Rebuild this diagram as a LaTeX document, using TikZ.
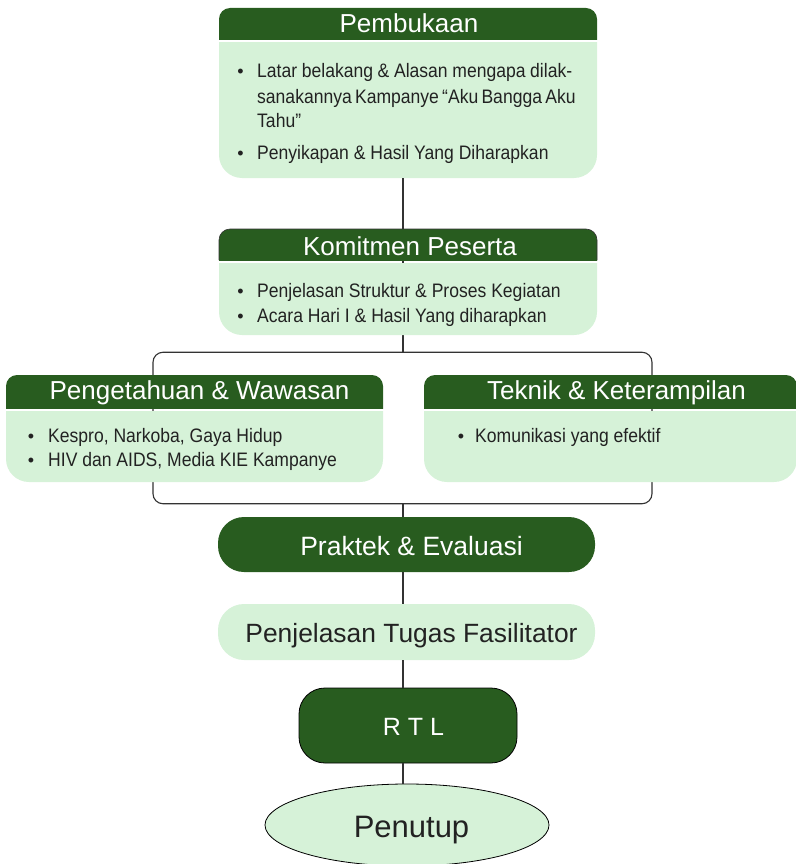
\documentclass[tikz,border=0pt]{standalone}
\usepackage{fontspec}
\setmainfont{Liberation Sans}
\newfontfamily\bodyfont[FakeStretch=0.9]{Liberation Sans}
\usetikzlibrary{shapes.geometric,fit}
\definecolor{dkgreen}{RGB}{40,92,31}
\definecolor{ltgreen}{RGB}{214,242,216}
\definecolor{txtc}{RGB}{34,34,34}
\definecolor{connc}{RGB}{51,51,51}
\newcommand{\twopart}[6]{%
  \begin{scope}
    \clip (#2-2,#3-2) rectangle (#4+2,#5);
    \fill[dkgreen, rounded corners=11pt] (#2,#3) rectangle (#4,#5+30);
  \end{scope}
  \begin{scope}
    \clip (#2-2,#5+3) rectangle (#4+2,#6+2);
    \fill[ltgreen, rounded corners=23pt] (#2,#5-30) rectangle (#4,#6);
  \end{scope}
  \coordinate (#1-nw) at (#2,#3);
  \coordinate (#1-se) at (#4,#6);
  \node[fit=(#1-nw)(#1-se), inner sep=0pt] (#1) {};
}
\begin{document}
\begin{tikzpicture}[x=1pt,y=-1pt,
  conn/.style={draw=connc, line width=1.1pt},
  hdrtext/.style={font=\fontsize{26}{26}\selectfont, text=white, anchor=base, inner sep=0pt},
  bodytext/.style={font=\bodyfont\fontsize{19.5}{19.5}\selectfont, text=txtc, anchor=base west, inner sep=0pt},
  bul/.style={font=\fontsize{18}{18}\selectfont, text=txtc, anchor=base, inner sep=0pt},
  darkpill/.style={fill=dkgreen, rounded corners=26pt, minimum width=377pt, minimum height=55pt, inner sep=0pt},
  lightpill/.style={fill=ltgreen, rounded corners=26pt, minimum width=377pt, minimum height=56pt, inner sep=0pt}]
\useasboundingbox (0,0) rectangle (795,864);
\coordinate (ax) at (403,0);

% bracket grouping the two middle boxes
\node[draw=connc, line width=1.1pt, rounded corners=10pt, minimum width=499pt, minimum height=151.5pt, inner sep=0pt] (bracket) at (402.5,428) {};

% boxes
\twopart{pemb}{219}{8}{597}{40}{178}
\twopart{pengt}{6}{375}{383}{408}{482}
\twopart{tekn}{424}{375}{797}{408}{482}

\node[darkpill] (prak) at (406.5,544.5) {};
\node[lightpill] (penj) at (406.5,632) {};
\node[fill=dkgreen, draw=black, line width=0.8pt, rounded corners=26pt, minimum width=218pt, minimum height=75pt, inner sep=0pt] (rtl) at (408,725.5) {};
\node[ellipse, fill=ltgreen, draw=black, line width=0.8pt, minimum width=284pt, minimum height=82pt, inner sep=0pt] (penutup) at (407,825) {};

% connector behind Komitmen box
\draw[conn] (ax |- pemb.south) -- (ax |- bracket.north);
\twopart{komit}{219}{229}{597}{260}{335}
\draw[black!80, line width=0.6pt, rounded corners=11pt] (219,260) -- (219,229) -- (597,229) -- (597,260);

\draw[conn] (ax |- bracket.south) -- (ax |- prak.north);
\draw[conn] (ax |- prak.south) -- (ax |- penj.north);
\draw[conn] (ax |- penj.south) -- (ax |- rtl.north);
\draw[conn] (ax |- rtl.south) -- (ax |- penutup.north);

% header texts
\node[hdrtext] (pembT) at (409,33) {Pembukaan};
\node[hdrtext] (komitT) at (410,255) {Komitmen Peserta};
\node[hdrtext] (pengtT) at (199.5,399) {Pengetahuan \& Wawasan};
\node[hdrtext] (teknT) at (616.5,399) {Teknik \& Keterampilan};
\node[hdrtext, font=\fontsize{26.5}{26.5}\selectfont] (prakT) at (411.5,555) {Praktek \& Evaluasi};
\node[hdrtext, text=txtc, font=\fontsize{26.4}{26.4}\selectfont] (penjT) at (411.5,642) {Penjelasan Tugas Fasilitator};
\node[hdrtext, font=\fontsize{25}{25}\selectfont] (rtlT) at (413.5,735) {R T L};
\node[hdrtext, text=txtc, font=\fontsize{31}{31}\selectfont] (penutupT) at (411.5,837) {Penutup};

% Pembukaan body
\node[bul] (pb1) at (240.5,78) {•};
\node[bodytext] (pt1) at (257,78) {\makebox[315pt][s]{Latar belakang \& Alasan mengapa dilak-}};
\node[bodytext] (pt2) at (257,103) {\makebox[315pt][s]{sanakannya Kampanye “Aku Bangga Aku}};
\node[bodytext] (pt3) at (257,128) {Tahu”};
\node[bul] (pb2) at (240.5,159) {•};
\node[bodytext] (pt4) at (257,159) {Penyikapan \& Hasil Yang Diharapkan};

% Komitmen body
\node[bul] (kb1) at (240.5,297) {•};
\node[bodytext] (kt1) at (257,297) {Penjelasan Struktur \& Proses Kegiatan};
\node[bul] (kb2) at (240.5,322) {•};
\node[bodytext] (kt2) at (257,322) {Acara Hari I \& Hasil Yang diharapkan};

% Pengetahuan body
\node[bul] (gb1) at (31,442) {•};
\node[bodytext] (gt1) at (48,442) {Kespro, Narkoba, Gaya Hidup};
\node[bul] (gb2) at (31,466) {•};
\node[bodytext] (gt2) at (48,466) {HIV dan AIDS, Media KIE Kampanye};

% Teknik body
\node[bul] (tb1) at (461,442) {•};
\node[bodytext] (tt1) at (475,442) {Komunikasi yang efektif};
\end{tikzpicture}
\end{document}
